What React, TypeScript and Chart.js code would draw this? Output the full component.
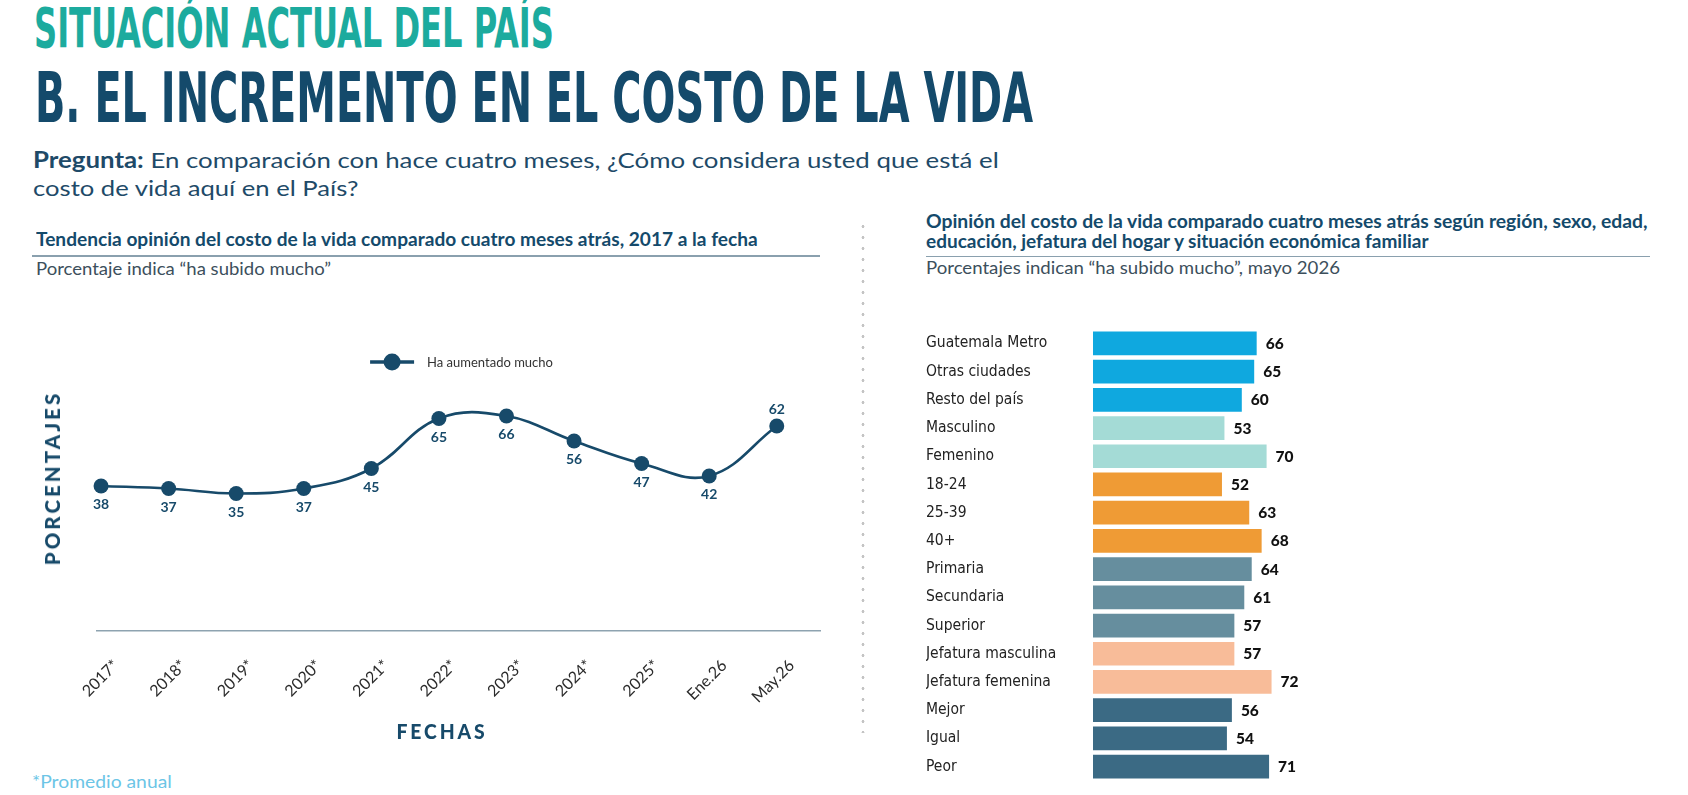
import React, { useEffect, useLayoutEffect, useRef } from 'react';
import { Chart, registerables } from 'chart.js';

Chart.register(...registerables);

// Trend series: share answering "ha aumentado mucho"
const trendLabels = ['2017*', '2018*', '2019*', '2020*', '2021*', '2022*', '2023*', '2024*', '2025*', 'Ene.26', 'May.26'];
const trendValues = [38, 37, 35, 37, 45, 65, 66, 56, 47, 42, 62];
const trendSeriesName = 'Ha aumentado mucho';

// Breakdown by segment, mayo 2026
const segmentLabels = [
  'Guatemala Metro', 'Otras ciudades', 'Resto del país',
  'Masculino', 'Femenino',
  '18-24', '25-39', '40+',
  'Primaria', 'Secundaria', 'Superior',
  'Jefatura masculina', 'Jefatura femenina',
  'Mejor', 'Igual', 'Peor',
];
const segmentValues = [66, 65, 60, 53, 70, 52, 63, 68, 64, 61, 57, 57, 72, 56, 54, 71];
const segmentGroupSizes = [3, 2, 3, 3, 2, 3];

const groupColors = ['#0fa8df', '#a4dbd6', '#ef9b35', '#668e9e', '#f8bc99', '#3b6a84'];
const NAVY = '#174a6a';
const TITLE_FONT = "'Liberation Sans Narrow', 'DejaVu Sans Condensed', Roboto, sans-serif";
const BODY_FONT = "Lato, 'Noto Sans', sans-serif";
const NARROW_FONT = "'Liberation Sans Narrow', 'DejaVu Sans Condensed', Roboto, sans-serif";

const barColors: string[] = segmentGroupSizes.flatMap((n, g) => Array(n).fill(groupColors[g]));

type LineProps = {
  x: number;
  baseline: number;
  width: number;
  size: number;
  weight?: number;
  color: string;
  family: string;
  spacing?: number;
  children: React.ReactNode;
};

// A single line of text placed on a baseline and stretched to a given width
function FitLine({ x, baseline, width, size, weight = 400, color, family, spacing = 0, children }: LineProps) {
  const boxRef = useRef<HTMLDivElement>(null);
  const markRef = useRef<HTMLSpanElement>(null);
  useLayoutEffect(() => {
    const fit = () => {
      const el = boxRef.current;
      const mark = markRef.current;
      if (!el || !mark) return;
      el.style.transform = 'none';
      const w = el.offsetWidth;
      el.style.top = `${baseline - mark.offsetTop}px`;
      if (w > 0) el.style.transform = `scaleX(${width / w})`;
    };
    fit();
    if (document.fonts) document.fonts.ready.then(fit);
  }, [x, baseline, width]);
  return (
    <div
      ref={boxRef}
      style={{
        position: 'absolute',
        left: x,
        top: baseline,
        whiteSpace: 'nowrap',
        fontSize: size,
        fontWeight: weight,
        color,
        fontFamily: family,
        letterSpacing: spacing,
        lineHeight: 1.2,
        transformOrigin: '0 0',
      }}
    >
      {children}
      <span ref={markRef} style={{ display: 'inline-block', width: 0, height: 0 }} />
    </div>
  );
}

type AxisTitleProps = { cx: number; cy: number; length: number; vertical?: boolean; children: React.ReactNode };

// Letter-spaced axis caption centred on a point
function AxisTitle({ cx, cy, length, vertical = false, children }: AxisTitleProps) {
  const ref = useRef<HTMLDivElement>(null);
  useLayoutEffect(() => {
    const fit = () => {
      const el = ref.current;
      if (!el) return;
      el.style.transform = 'translate(-50%, -50%)';
      const w = el.offsetWidth;
      const s = w > 0 ? length / w : 1;
      el.style.transform = `translate(-50%, -50%)${vertical ? ' rotate(-90deg)' : ''} scaleX(${s})`;
    };
    fit();
    if (document.fonts) document.fonts.ready.then(fit);
  }, [cx, cy, length, vertical]);
  return (
    <div
      ref={ref}
      style={{
        position: 'absolute',
        left: cx,
        top: cy,
        whiteSpace: 'nowrap',
        fontFamily: BODY_FONT,
        fontWeight: 900,
        fontSize: 20,
        letterSpacing: 3,
        color: NAVY,
        lineHeight: 1,
      }}
    >
      {children}
    </div>
  );
}

function TrendChart() {
  const canvasRef = useRef<HTMLCanvasElement>(null);
  useEffect(() => {
    const canvas = canvasRef.current;
    if (!canvas) return;

    // legend: short line crossed by a dot, then the series name, centred over the plot
    const seriesLegend = {
      id: 'seriesLegend',
      afterDraw(chart: Chart) {
        const { ctx, chartArea } = chart;
        const ds = chart.data.datasets[0] as any;
        const color = ds.borderColor as string;
        ctx.save();
        ctx.font = `13px ${BODY_FONT}`;
        const text = String(ds.label);
        const tw = ctx.measureText(text).width;
        const symbolW = 44;
        const gap = 13;
        const total = symbolW + gap + tw;
        const x0 = (chartArea.left + chartArea.right) / 2 - total / 2 + 3;
        const y = chartArea.top + 31;
        ctx.strokeStyle = color;
        ctx.lineWidth = 3.5;
        ctx.beginPath();
        ctx.moveTo(x0, y);
        ctx.lineTo(x0 + symbolW, y);
        ctx.stroke();
        ctx.fillStyle = color;
        ctx.beginPath();
        ctx.arc(x0 + symbolW / 2, y, 8.5, 0, Math.PI * 2);
        ctx.fill();
        ctx.fillStyle = '#333333';
        ctx.textAlign = 'left';
        ctx.textBaseline = 'middle';
        ctx.fillText(text, x0 + symbolW + gap, y + 0.5);
        ctx.restore();
      },
    };

    const valueLabels = {
      id: 'trendValueLabels',
      afterDatasetsDraw(chart: Chart) {
        const { ctx } = chart;
        const meta = chart.getDatasetMeta(0);
        ctx.save();
        ctx.font = `bold 14px ${BODY_FONT}`;
        ctx.fillStyle = NAVY;
        ctx.textAlign = 'center';
        ctx.textBaseline = 'middle';
        meta.data.forEach((pt: any, i: number) => {
          const above = i === meta.data.length - 1;
          ctx.fillText(String(trendValues[i]), pt.x, pt.y + (above ? -17 : 18.5));
        });
        ctx.restore();
      },
    };

    const chart = new Chart(canvas, {
      type: 'line',
      data: {
        datasets: [
          {
            label: trendSeriesName,
            data: trendValues.map((v, i) => ({ x: i, y: v })),
            borderColor: NAVY,
            backgroundColor: NAVY,
            borderWidth: 2.6,
            pointRadius: 7.5,
            pointHoverRadius: 7.5,
            pointBackgroundColor: NAVY,
            pointBorderWidth: 0,
            tension: 0.4,
            fill: false,
            clip: false as any,
          },
        ],
      },
      options: {
        animation: false,
        responsive: false,
        maintainAspectRatio: false,
        events: [],
        layout: { padding: { left: 97, right: 40, top: 31, bottom: 9 } },
        plugins: {
          legend: { display: false },
          tooltip: { enabled: false },
        },
        scales: {
          x: {
            type: 'linear',
            min: -0.06,
            max: 10.64,
            grid: { display: false, drawTicks: false },
            border: { display: true, color: '#8ea3b0', width: 1.5 },
            afterBuildTicks: (scale: any) => {
              scale.ticks = trendLabels.map((_, i) => ({ value: i }));
            },
            afterFit: (scale: any) => {
              scale.height = 80;
            },
            ticks: {
              autoSkip: false,
              minRotation: 45,
              maxRotation: 45,
              padding: 25,
              labelOffset: 15,
              color: '#2b2b2b',
              font: { family: BODY_FONT, size: 16 },
              callback: (v: any) => trendLabels[Number(v)] ?? '',
            },
          },
          y: { display: false, min: -20, max: 100 },
        },
      },
      plugins: [valueLabels, seriesLegend],
    });
    return () => chart.destroy();
  }, []);
  return <canvas ref={canvasRef} width={860} height={420} style={{ position: 'absolute', left: 0, top: 300 }} />;
}

function SegmentChart() {
  const canvasRef = useRef<HTMLCanvasElement>(null);
  useEffect(() => {
    const canvas = canvasRef.current;
    if (!canvas) return;

    const valueLabels = {
      id: 'segmentValueLabels',
      afterDatasetsDraw(chart: Chart) {
        const { ctx } = chart;
        const meta = chart.getDatasetMeta(0);
        ctx.save();
        ctx.font = `900 15.5px ${BODY_FONT}`;
        ctx.fillStyle = '#111111';
        ctx.textAlign = 'left';
        ctx.textBaseline = 'middle';
        meta.data.forEach((bar: any, i: number) => {
          ctx.fillText(String(segmentValues[i]), bar.x + 9, bar.y + 0.5);
        });
        ctx.restore();
      },
    };

    const chart = new Chart(canvas, {
      type: 'bar',
      data: {
        labels: segmentLabels,
        datasets: [
          {
            data: segmentValues,
            backgroundColor: barColors,
            borderWidth: 0,
            barPercentage: 0.84,
            categoryPercentage: 1,
          },
        ],
      },
      options: {
        indexAxis: 'y',
        animation: false,
        responsive: false,
        maintainAspectRatio: false,
        events: [],
        layout: { padding: { left: 26, right: 347, top: 8, bottom: 9 } },
        plugins: { legend: { display: false }, tooltip: { enabled: false } },
        scales: {
          x: { display: false, min: 0, max: 100 },
          y: {
            grid: { display: false, drawTicks: false },
            border: { display: false },
            afterFit: (scale: any) => {
              scale.width = 167;
            },
            ticks: {
              crossAlign: 'far',
              autoSkip: false,
              padding: 0,
              color: '#222222',
              font: { family: NARROW_FONT, size: 15.5 },
            },
          },
        },
      },
      plugins: [valueLabels],
    });
    return () => chart.destroy();
  }, []);
  return <canvas ref={canvasRef} width={788} height={470} style={{ position: 'absolute', left: 900, top: 320 }} />;
}

export default function App() {
  return (
    <div
      style={{
        position: 'absolute',
        left: 0,
        top: 0,
        width: 1688,
        height: 795,
        overflow: 'hidden',
        background: '#ffffff',
      }}
    >
      <FitLine x={34} baseline={47.3} width={520} size={54.5} weight={700} color="#1cab9e" family={TITLE_FONT}>
        SITUACIÓN ACTUAL DEL PAÍS
      </FitLine>
      <FitLine x={35} baseline={121.7} width={998} size={70} weight={700} color="#144a6b" family={TITLE_FONT}>
        B. EL INCREMENTO EN EL COSTO DE LA VIDA
      </FitLine>
      <FitLine x={33} baseline={168.3} width={966} size={22} color="#1e4a68" family={BODY_FONT}>
        <b>Pregunta:</b> En comparación con hace cuatro meses, ¿Cómo considera usted que está el
      </FitLine>
      <FitLine x={33} baseline={195.5} width={325} size={22} color="#1e4a68" family={BODY_FONT}>
        costo de vida aquí en el País?
      </FitLine>

      <FitLine x={36} baseline={246} width={722} size={18} weight={700} color="#144a6b" family={BODY_FONT}>
        Tendencia opinión del costo de la vida comparado cuatro meses atrás, 2017 a la fecha
      </FitLine>
      <div style={{ position: 'absolute', left: 32, top: 255, width: 788, height: 1.5, background: '#8aa0ae' }} />
      <FitLine x={36} baseline={275} width={295} size={16.6} color="#3c4f5c" family={BODY_FONT}>
        Porcentaje indica “ha subido mucho”
      </FitLine>

      <div
        style={{
          position: 'absolute',
          left: 860,
          top: 221,
          width: 6,
          height: 512,
          backgroundImage: 'radial-gradient(circle, #c4c4c4 1.2px, rgba(255,255,255,0) 1.7px)',
          backgroundSize: '6px 11px',
          backgroundRepeat: 'repeat-y',
        }}
      />

      <FitLine x={926} baseline={228} width={722} size={18} weight={700} color="#144a6b" family={BODY_FONT}>
        Opinión del costo de la vida comparado cuatro meses atrás según región, sexo, edad,
      </FitLine>
      <FitLine x={926} baseline={248} width={502} size={18} weight={700} color="#144a6b" family={BODY_FONT}>
        educación, jefatura del hogar y situación económica familiar
      </FitLine>
      <div style={{ position: 'absolute', left: 926, top: 255.5, width: 724, height: 1.5, background: '#8aa0ae' }} />
      <FitLine x={926} baseline={274} width={414} size={16.6} color="#3c4f5c" family={BODY_FONT}>
        Porcentajes indican “ha subido mucho”, mayo 2026
      </FitLine>

      <TrendChart />
      <SegmentChart />

      <AxisTitle cx={52} cy={478} length={175} vertical>
        PORCENTAJES
      </AxisTitle>
      <AxisTitle cx={442} cy={731} length={91}>
        FECHAS
      </AxisTitle>

      <FitLine x={32} baseline={787.7} width={140} size={17.5} color="#6cc5e6" family={BODY_FONT}>
        *Promedio anual
      </FitLine>
    </div>
  );
}
